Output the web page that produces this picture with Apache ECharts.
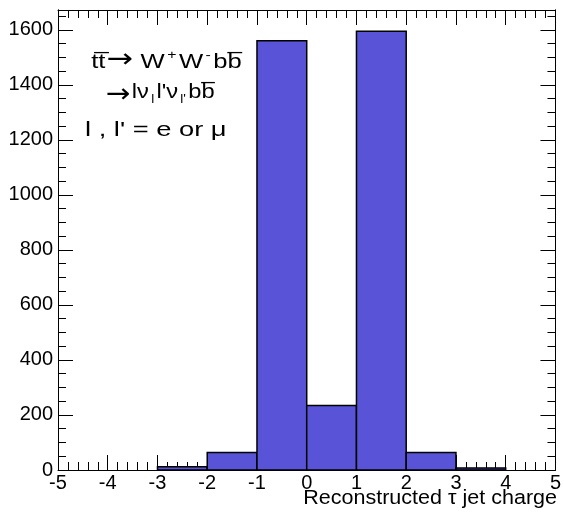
<!DOCTYPE html>
<html>
<head>
<meta charset="utf-8">
<script src="https://cdn.jsdelivr.net/npm/echarts@6/dist/echarts.min.js"></script>
<style>
  html, body { margin: 0; padding: 0; background: #fff; }
  #chart { width: 564px; height: 513px; }
</style>
</head>
<body>
<div id="chart"></div>
<script>
// Reconstructed tau jet charge distribution (histogram, unit-width bins)
const binLow = [-3, -2, -1, 0, 1, 2, 3];
const binWidth = 1;
const counts = [12, 64, 1560, 234, 1595, 64, 7];

// Axis ranges and tick spacing
const xRange = [-5, 5];
const xMajorStep = 1;
const yRange = [0, 1672];
const yMajorStep = 200;
const yMinorStep = 50;

const axisTitle = 'Reconstructed \u03c4 jet charge';
const processLines = [
  '{n|tt\u0305}{arr|\u2192}{n|W}{sup|+}{n|W}{sup|-}{n|bb\u0305}',
  '{arr|\u2192}{n|l\u03bd}{sub|l}{n|l\'\u03bd}{sub|l\'}{n|bb\u0305}',
  '{n|l , l\' = e or \u03bc}'
];

const FONT = 'Liberation Sans, Arial, Helvetica, sans-serif';
const FILL = '#5953d7';

const chart = echarts.init(document.getElementById('chart'), null, { renderer: 'canvas' });

const histData = binLow.map((x, i) => [x, x + binWidth, counts[i]]);

function xAxisDef(position, showLabel) {
  return {
    type: 'value', position: position,
    min: xRange[0], max: xRange[1], interval: xMajorStep,
    axisLine: { show: true, onZero: false, lineStyle: { color: '#000', width: 1 } },
    axisTick: { show: true, inside: true, length: 15, lineStyle: { color: '#000', width: 1 } },
    minorTick: { show: true, splitNumber: 5, length: 8, lineStyle: { color: '#000', width: 1 } },
    axisLabel: { show: showLabel, margin: 3, color: '#000', fontSize: 20, fontFamily: FONT },
    splitLine: { show: false }, minorSplitLine: { show: false }
  };
}

function yAxisDef(position, step, tickLen, showLabel) {
  return {
    type: 'value', position: position,
    min: yRange[0], max: yRange[1], interval: step,
    axisLine: { show: true, onZero: false, lineStyle: { color: '#000', width: 1 } },
    axisTick: { show: true, inside: true, length: tickLen, lineStyle: { color: '#000', width: 1 } },
    axisLabel: {
      show: showLabel, margin: 5, color: '#000', fontSize: 20, fontFamily: FONT,
      formatter: v => (v % yMajorStep === 0 ? String(v) : '')
    },
    splitLine: { show: false }
  };
}

const textBase = { fontFamily: FONT, lineHeight: 24 };

const option = {
  animation: false,
  backgroundColor: '#fff',
  grid: { left: 58, right: 5, top: 10, bottom: 43, containLabel: false },
  xAxis: [xAxisDef('bottom', true), xAxisDef('top', false)],
  yAxis: [
    yAxisDef('left', yMajorStep, 15, true),
    yAxisDef('left', yMinorStep, 8, false),
    yAxisDef('right', yMajorStep, 15, false),
    yAxisDef('right', yMinorStep, 8, false)
  ],
  series: [{
    type: 'custom',
    xAxisIndex: 0, yAxisIndex: 0,
    encode: { x: [0, 1], y: 2 },
    data: histData,
    renderItem: function (params, api) {
      const top = api.coord([api.value(0), api.value(2)]);
      const bottom = api.coord([api.value(1), 0]);
      return {
        type: 'rect',
        shape: { x: top[0], y: top[1], width: bottom[0] - top[0], height: bottom[1] - top[1] },
        style: { fill: FILL, stroke: '#000', lineWidth: 1.5 }
      };
    }
  }],
  graphic: [
    {
      type: 'text', x: 557, y: 488, scaleX: 1.05,
      style: { text: axisTitle, fill: '#000', font: '20.5px ' + FONT, align: 'right', verticalAlign: 'top' }
    },
    {
      type: 'text', x: 90, y: 49, scaleX: 1.22,
      style: {
        text: processLines[0], fill: '#000',
        rich: {
          n: Object.assign({ fontSize: 21, verticalAlign: 'bottom', padding: [0, 1, 0, 1] }, textBase),
          arr: { fontSize: 26, fontFamily: 'DejaVu Sans', lineHeight: 24, verticalAlign: 'bottom', padding: [0, 5, 0, 0] },
          sup: Object.assign({ fontSize: 13, verticalAlign: 'top', padding: [0, 1, 0, 1] }, textBase)
        }
      }
    },
    {
      type: 'text', x: 106, y: 82, scaleX: 1.13,
      style: {
        text: processLines[1], fill: '#000',
        rich: {
          n: Object.assign({ fontSize: 21, verticalAlign: 'top', padding: [0, 1, 0, 1] }, textBase),
          arr: { fontSize: 26, fontFamily: 'DejaVu Sans', lineHeight: 24, verticalAlign: 'top' },
          sub: Object.assign({ fontSize: 12, verticalAlign: 'bottom', padding: [0, 1, 0, 1] }, textBase)
        }
      }
    },
    {
      type: 'text', x: 85, y: 118, scaleX: 1.3,
      style: {
        text: processLines[2], fill: '#000',
        rich: { n: Object.assign({ fontSize: 21 }, textBase) }
      }
    }
  ]
};

chart.setOption(option);
</script>
</body>
</html>
